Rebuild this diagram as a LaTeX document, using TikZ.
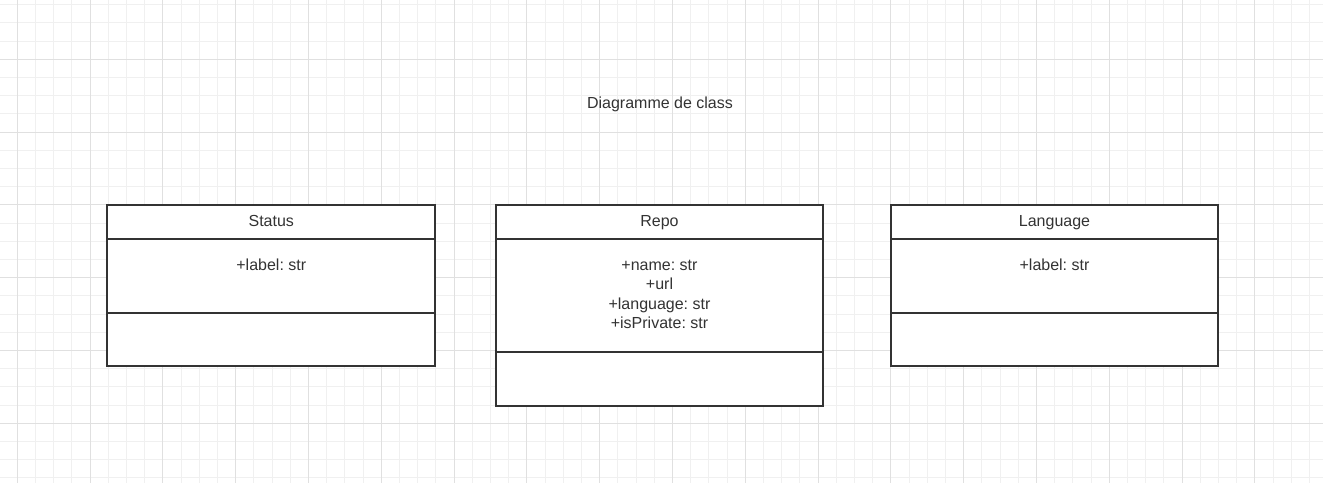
\documentclass[tikz,border=0pt]{standalone}
\usepackage{fontspec}
\setmainfont{Liberation Sans}
\frenchspacing
\definecolor{ink}{HTML}{333333}
\definecolor{gridminor}{HTML}{F0F0F0}
\definecolor{gridmajor}{HTML}{E0E0E0}
\begin{document}
\begin{tikzpicture}[x=1pt,y=-1pt,
  lbl/.style={anchor=base,inner sep=0pt,text=ink,font=\fontsize{16}{19.5}\selectfont\frenchspacing},
  umlbox/.style={draw=ink,line width=2pt,fill=white}]
\useasboundingbox (0,0) rectangle (1323,483);
\clip (0,0) rectangle (1323,483);
\fill[white] (0,0) rectangle (1323,483);
% grid
\foreach \i in {0,...,74} {
  \draw[gridminor,line width=1pt] ({-0.9+18.2*\i},0) -- ({-0.9+18.2*\i},483);
}
\foreach \i in {0,...,28} {
  \draw[gridminor,line width=1pt] (0,{-13.5+18.2*\i}) -- (1323,{-13.5+18.2*\i});
}
\foreach \i in {0,...,18} {
  \draw[gridmajor,line width=1pt] ({17.3+72.8*\i},0) -- ({17.3+72.8*\i},483);
}
\foreach \i in {0,...,7} {
  \draw[gridmajor,line width=1pt] (0,{-13.5+72.8*\i}) -- (1323,{-13.5+72.8*\i});
}
% title
\node[lbl] (title) at (660,108.3) {Diagramme de class};
% Status
\draw[umlbox] (107.3,205) rectangle (435.3,365.7);
\draw[draw=ink,line width=2pt] (107.3,239.3) -- (435.3,239.3);
\draw[draw=ink,line width=2pt] (107.3,312.7) -- (435.3,312.7);
\node[lbl] (statusName) at (271.3,226.7) {Status};
\node[lbl] (statusAttr) at (271.3,270) {+label: str};
% Repo
\draw[umlbox] (496,205) rectangle (823,406);
\draw[draw=ink,line width=2pt] (496,239.3) -- (823,239.3);
\draw[draw=ink,line width=2pt] (496,351.7) -- (823,351.7);
\node[lbl] (repoName) at (659.5,226.7) {Repo};
\node[lbl] (repoA1) at (659.5,270) {+name: str};
\node[lbl] (repoA2) at (659.5,289.5) {+url};
\node[lbl] (repoA3) at (659.5,309) {+language: str};
\node[lbl] (repoA4) at (659.5,328.5) {+isPrivate: str};
% Language
\draw[umlbox] (890.7,205) rectangle (1218.3,365.7);
\draw[draw=ink,line width=2pt] (890.7,239.3) -- (1218.3,239.3);
\draw[draw=ink,line width=2pt] (890.7,312.7) -- (1218.3,312.7);
\node[lbl] (langName) at (1054.5,226.7) {Language};
\node[lbl] (langAttr) at (1054.5,270) {+label: str};
\end{tikzpicture}
\end{document}
